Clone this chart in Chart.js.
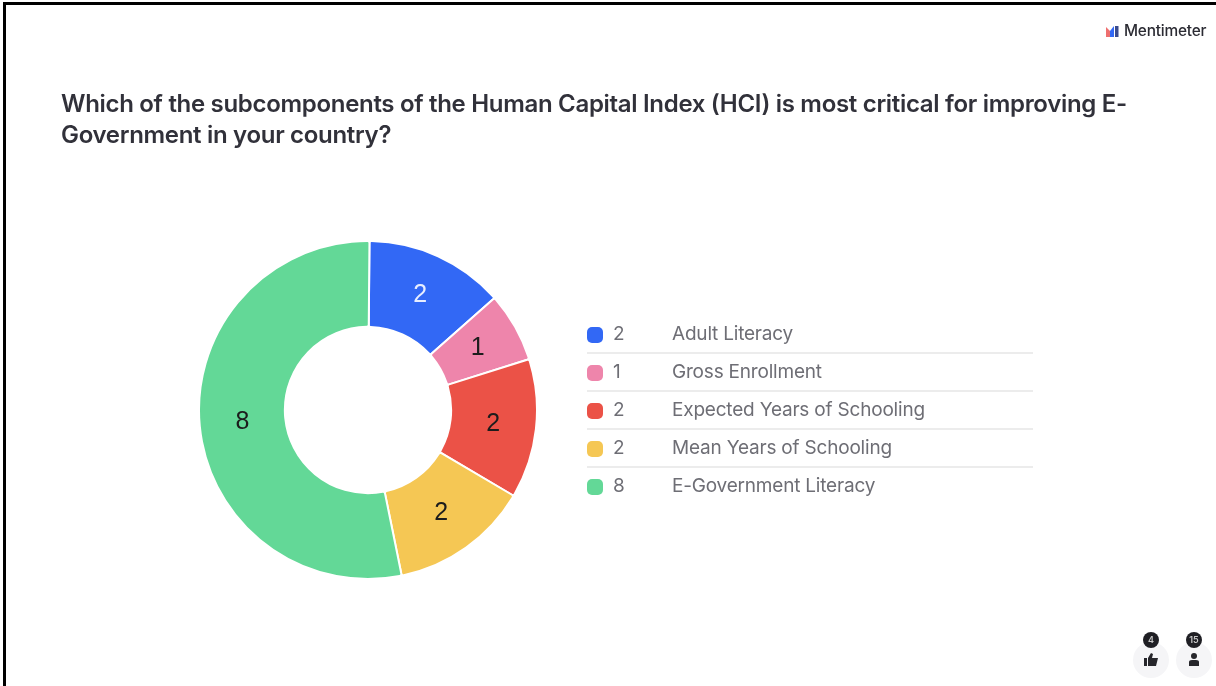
<!DOCTYPE html>
<html>
<head>
<meta charset="utf-8">
<title>Human Capital Index poll</title>
<script src="https://cdn.jsdelivr.net/npm/chart.js@4"></script>
<style>
    html, body { margin: 0; padding: 0; background: #fff; }
    body { width: 1216px; height: 686px; position: relative; overflow: hidden; font-family: Inter, "Noto Sans", sans-serif; }
    /* the reference is a soft screenshot */
    #slide { position: absolute; left: 0; top: 0; width: 1216px; height: 686px; filter: blur(0.4px); }
    .frame-top { position: absolute; left: 3px; top: 2px; right: 0; height: 3px; background: #000; }
    .frame-left { position: absolute; left: 3px; top: 2px; bottom: 0; width: 3px; background: #000; }
    .brand { position: absolute; left: 1106px; top: 22px; display: flex; align-items: center; }
    .brand span { margin-left: 5px; font-size: 15.4px; font-weight: 500; color: #2b2b33; letter-spacing: -0.2px; line-height: 18px; }
    h1 { position: absolute; left: 61px; top: 88px; margin: 0; font-size: 24px; line-height: 31px; font-weight: 600; color: #31313a; white-space: nowrap; letter-spacing: -0.31px; }
    #chart { position: absolute; left: 198px; top: 240px; }
    #legend { position: absolute; left: 587px; top: 316px; width: 446px; }
    .row { height: 36px; border-bottom: 2px solid #ececec; position: relative; color: #6e6e75; font-size: 19px; line-height: 36px; }
    .row:last-child { border-bottom: none; }
    .swatch { position: absolute; left: 0; top: 11px; width: 16px; height: 16px; border-radius: 5px; }
    .count { position: absolute; left: 26px; }
    .name { position: absolute; left: 85px; white-space: nowrap; letter-spacing: -0.2px; }
    .stat { position: absolute; top: 632px; width: 38px; height: 46px; }
    .stat .disc { position: absolute; left: 0; top: 10px; width: 36px; height: 36px; border-radius: 50%; background: #f5f5f7; }
    .stat .badge { position: absolute; left: 10px; top: 0; width: 16px; height: 16px; border-radius: 50%; background: #1f1f24; color: #c8c8c8; font-size: 9px; font-weight: 600; line-height: 16px; text-align: center; }
    .stat svg { position: absolute; left: 11px; top: 21px; }
</style>
</head>
<body>
<div id="slide">
<div class="frame-top"></div>
<div class="frame-left"></div>

<div class="brand">
    <svg width="13" height="13" viewBox="0 0 13 13">
        <path d="M0 2 L4 6 L4 12 L0 12 Z" fill="#ee6f6f"/>
        <path d="M4 6 L8 1 L8 12 L4 12 Z" fill="#3268f5"/>
        <rect x="9" y="1" width="3.5" height="11" fill="#3a4a8c"/>
    </svg>
    <span>Mentimeter</span>
</div>

<h1>Which of the subcomponents of the Human Capital Index (HCI) is most critical for improving E-<br>Government in your country?</h1>

<canvas id="chart" width="340" height="340"></canvas>
<div id="legend"></div>

<div class="stat" style="left:1133px">
    <div class="disc"></div>
    <div class="badge">4</div>
    <svg width="14" height="13" viewBox="0 0 14 13">
        <rect x="0" y="5" width="3" height="8" fill="#26262b"/>
        <path d="M4 5 L7 0 L9 1 L8 5 L14 5 L12 13 L4 13 Z" fill="#26262b"/>
    </svg>
</div>
<div class="stat" style="left:1176px">
    <div class="disc"></div>
    <div class="badge">15</div>
    <svg width="14" height="13" viewBox="0 0 14 13">
        <circle cx="7" cy="3" r="3" fill="#26262b"/>
        <path d="M2 13 L2 9 Q2 7 5 7 L9 7 Q12 7 12 9 L12 13 Z" fill="#26262b"/>
    </svg>
</div>
</div>

<script>
const categories = ['Adult Literacy', 'Gross Enrollment', 'Expected Years of Schooling', 'Mean Years of Schooling', 'E-Government Literacy'];
const values = [2, 1, 2, 2, 8];
const sliceColors = ['#3268f5', '#ee85ab', '#eb5247', '#f5c754', '#63d897'];
const labelColors = ['#e8eeff', '#1c1c1c', '#1c1c1c', '#1c1c1c', '#1c1c1c'];

// Legend rows
const legend = document.getElementById('legend');
categories.forEach((name, i) => {
    const row = document.createElement('div');
    row.className = 'row';
    row.innerHTML = `<div class="swatch" style="background:${sliceColors[i]}"></div>` +
        `<div class="count">${values[i]}</div><div class="name">${name}</div>`;
    legend.appendChild(row);
});

// Value printed in the middle of each slice
const sliceLabels = {
    id: 'sliceLabels',
    afterDatasetsDraw(chart) {
        const ctx = chart.ctx;
        ctx.save();
        ctx.font = '25px "Liberation Sans", Arial, sans-serif';
        ctx.textAlign = 'center';
        ctx.textBaseline = 'middle';
        chart.getDatasetMeta(0).data.forEach((arc, i) => {
            const pos = arc.tooltipPosition();
            ctx.fillStyle = labelColors[i];
            ctx.fillText(values[i], pos.x, pos.y);
        });
        ctx.restore();
    }
};

new Chart(document.getElementById('chart'), {
    type: 'doughnut',
    data: {
        labels: categories,
        datasets: [{
            data: values,
            backgroundColor: sliceColors,
            borderColor: '#ffffff',
            borderWidth: 2,
            borderRadius: 2
        }]
    },
    options: {
        responsive: false,
        animation: false,
        rotation: 0.5,
        cutout: '49.2%',
        layout: { padding: 0 },
        plugins: {
            legend: { display: false },
            tooltip: { enabled: false }
        }
    },
    plugins: [sliceLabels]
});
</script>
</body>
</html>
